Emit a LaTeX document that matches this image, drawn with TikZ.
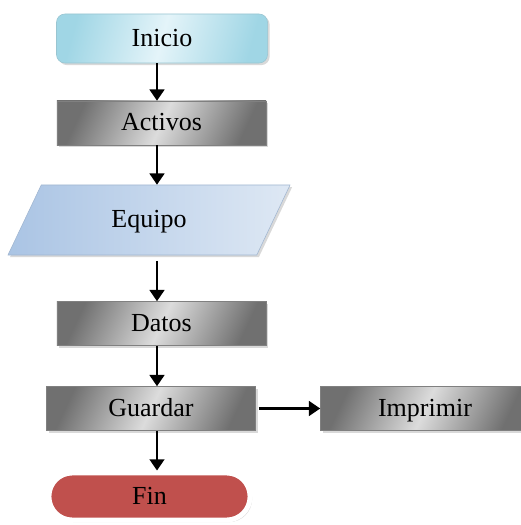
\documentclass[tikz,border=0pt]{standalone}
\usepackage{fontspec}
\setmainfont{Liberation Serif}
\usepackage{tikz}
\usetikzlibrary{arrows.meta,shapes.geometric,shadows}

\definecolor{iniciodark}{RGB}{160,214,229}
\definecolor{iniciolight}{RGB}{228,244,249}
\definecolor{procdark}{RGB}{112,112,112}
\definecolor{proclight}{RGB}{220,220,220}
\definecolor{equipodark}{RGB}{170,196,228}
\definecolor{equipolight}{RGB}{222,232,244}
\definecolor{finred}{RGB}{192,80,77}

\begin{document}
\begin{tikzpicture}[x=0.025cm, y=-0.025cm]
    \tikzstyle{inicio} = [rectangle, rounded corners=6pt, draw=iniciodark!80!gray, top color=iniciodark, bottom color=iniciodark, middle color=iniciolight, shading angle=75, minimum width=5.275cm, minimum height=1.225cm, drop shadow={opacity=0.3, shadow xshift=1.5pt, shadow yshift=-1.5pt}]
    \tikzstyle{proceso} = [rectangle, draw=gray, top color=procdark, bottom color=procdark, middle color=proclight, shading angle=65, minimum width=5.225cm, minimum height=1.1cm, drop shadow={opacity=0.3, shadow xshift=1.5pt, shadow yshift=-1.5pt}]
    \tikzstyle{datos} = [trapezium, trapezium left angle=45, trapezium right angle=135, trapezium stretches body=true, draw=equipodark!80!gray, left color=equipodark, right color=equipolight, minimum width=7.05cm, minimum height=1.75cm, drop shadow={opacity=0.3, shadow xshift=1.5pt, shadow yshift=-1.5pt}]
    \tikzstyle{fin} = [rectangle, rounded corners=0.58cm, fill=finred, draw=white, line width=3.5pt, minimum width=5.025cm, minimum height=1.175cm, drop shadow={opacity=0.3, shadow xshift=1.5pt, shadow yshift=-1.5pt}]
    \tikzstyle{flecha} = [-{Triangle[length=8pt, width=10.5pt]}, line width=1.5pt]
    \tikzstyle{every node} = [font=\fontsize{18.5}{20}\selectfont, text height=14pt, text depth=3pt]

    \useasboundingbox (0,0) rectangle (520,525);

    % Flowchart nodes
    \node[inicio] (ini) at (162,38.5) {Inicio};
    \node[proceso] (act) at (161.5,123) {Activos};
    \node[datos] (equ) at (149,220) {Equipo};
    \node[proceso] (dat) at (161.5,323.5) {Datos};
    \node[proceso] (gua) at (151,408.5) {Guardar};
    \node[proceso] (imp) at (425,408.5) {Imprimir};
    \node[fin] (fin) at (149.5,496.5) {Fin};

    % Arrows
    \coordinate (eje) at (157,0);
    \draw[flecha] (ini.south -| eje) -- (act.north -| eje);
    \draw[flecha] (act.south -| eje) -- (equ.north -| eje);
    \draw[flecha, shorten <=4pt] (equ.south -| eje) -- (dat.north -| eje);
    \draw[flecha] (dat.south -| eje) -- (gua.north -| eje);
    \draw[flecha] (gua.south -| eje) -- (fin.north -| eje);
    \draw[flecha, shorten <=2pt] (gua.east) -- (imp.west);
\end{tikzpicture}
\end{document}
